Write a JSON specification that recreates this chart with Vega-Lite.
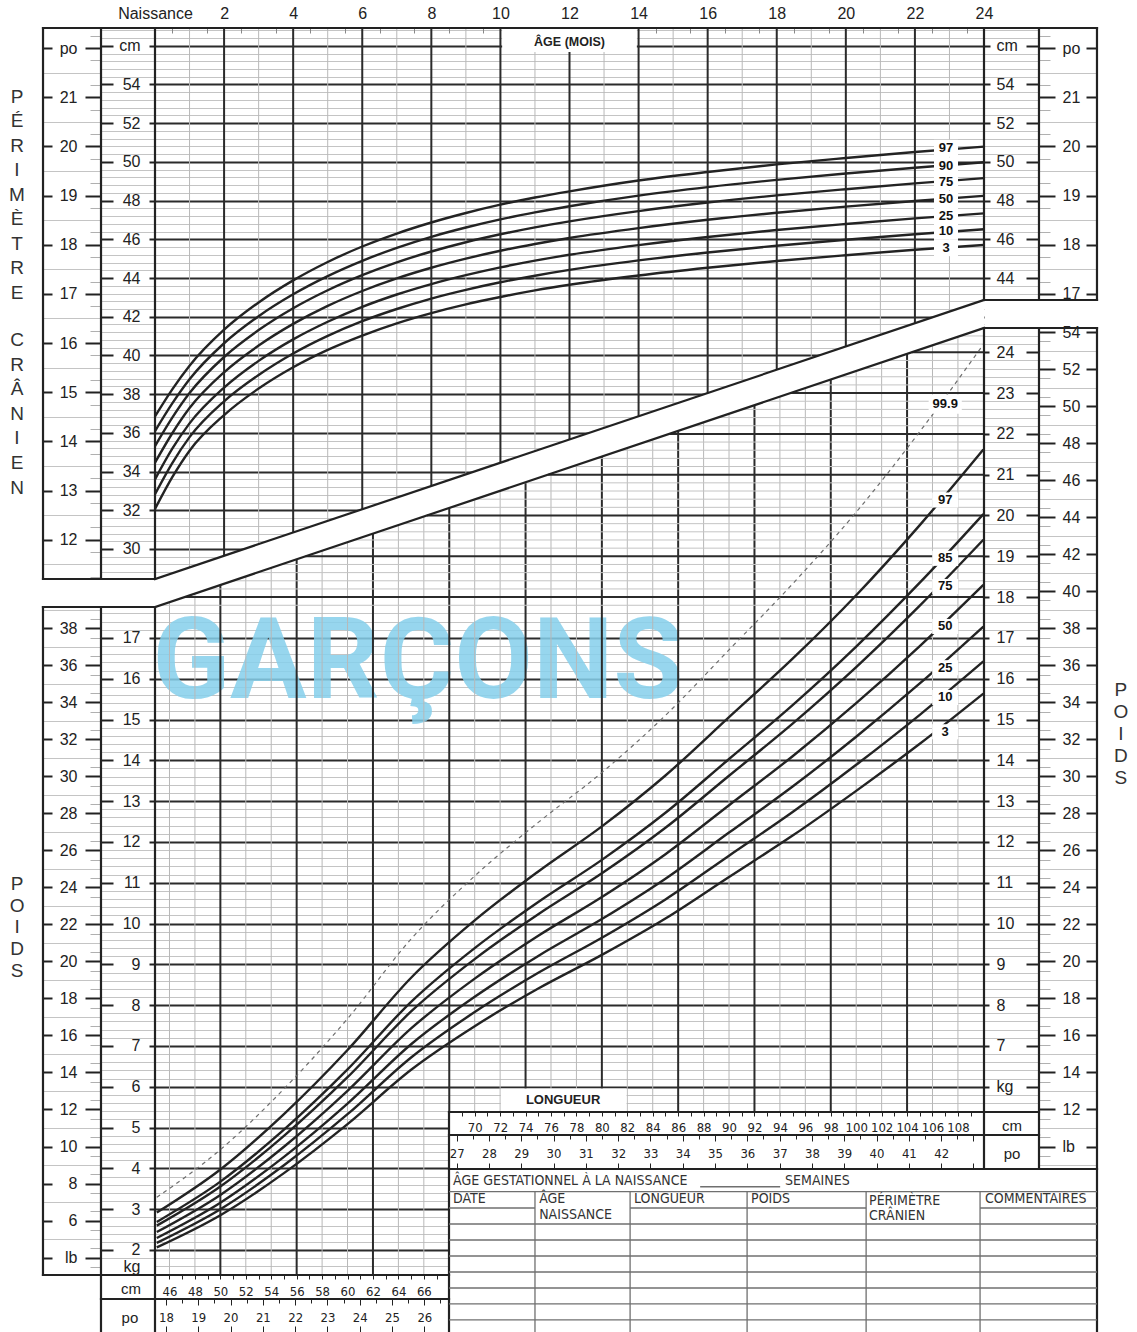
{
"$schema": "https://vega.github.io/schema/vega-lite/v6.json",
"width": 829, "height": 1247,
"autosize": {"type": "none"},
"padding": {"left": 155, "top": 28, "right": 153, "bottom": 57},
"background": "white",
"config": {"view": {"stroke": null}, "axis": {"grid": false, "domain": false, "labelFont": "Liberation Sans", "labelFontSize": 16, "labelColor": "#222", "tickColor": "#222", "tickWidth": 2, "labelOverlap": false, "labelFlush": false, "labelBound": false}},
"data": {"values": [{"k": 0}]},
"resolve": {"scale": {"x": "independent", "y": "independent"}},
"datasets": {
"head": [
{"age":0,"p3":32.07,"p10":32.83,"p25":33.6,"p50":34.46,"p75":35.32,"p90":36.09,"p97":36.85},
{"age":0.5,"p3":33.71,"p10":34.44,"p25":35.18,"p50":35.98,"p75":36.79,"p90":37.52,"p97":38.25},
{"age":1,"p3":35.08,"p10":35.78,"p25":36.49,"p50":37.28,"p75":38.06,"p90":38.77,"p97":39.47},
{"age":2,"p3":36.92,"p10":37.63,"p25":38.34,"p50":39.13,"p75":39.92,"p90":40.63,"p97":41.33},
{"age":3,"p3":38.29,"p10":38.99,"p25":39.72,"p50":40.51,"p75":41.31,"p90":42.03,"p97":42.74},
{"age":4,"p3":39.39,"p10":40.1,"p25":40.83,"p50":41.63,"p75":42.44,"p90":43.16,"p97":43.88},
{"age":5,"p3":40.29,"p10":41.01,"p25":41.74,"p50":42.56,"p75":43.37,"p90":44.1,"p97":44.83},
{"age":6,"p3":41.03,"p10":41.77,"p25":42.51,"p50":43.33,"p75":44.15,"p90":44.89,"p97":45.63},
{"age":7,"p3":41.66,"p10":42.4,"p25":43.15,"p50":43.98,"p75":44.81,"p90":45.56,"p97":46.3},
{"age":8,"p3":42.19,"p10":42.94,"p25":43.69,"p50":44.53,"p75":45.37,"p90":46.13,"p97":46.87},
{"age":9,"p3":42.64,"p10":43.39,"p25":44.15,"p50":45,"p75":45.85,"p90":46.61,"p97":47.36},
{"age":10,"p3":43.02,"p10":43.78,"p25":44.55,"p50":45.41,"p75":46.26,"p90":47.03,"p97":47.79},
{"age":11,"p3":43.36,"p10":44.12,"p25":44.9,"p50":45.76,"p75":46.62,"p90":47.39,"p97":48.16},
{"age":12,"p3":43.65,"p10":44.42,"p25":45.2,"p50":46.07,"p75":46.93,"p90":47.71,"p97":48.48},
{"age":14,"p3":44.13,"p10":44.91,"p25":45.7,"p50":46.58,"p75":47.46,"p90":48.26,"p97":49.04},
{"age":16,"p3":44.53,"p10":45.32,"p25":46.12,"p50":47.01,"p75":47.9,"p90":48.7,"p97":49.48},
{"age":18,"p3":44.88,"p10":45.67,"p25":46.48,"p50":47.37,"p75":48.27,"p90":49.07,"p97":49.87},
{"age":20,"p3":45.18,"p10":45.98,"p25":46.79,"p50":47.69,"p75":48.59,"p90":49.4,"p97":50.2},
{"age":22,"p3":45.46,"p10":46.26,"p25":47.08,"p50":47.98,"p75":48.89,"p90":49.7,"p97":50.51},
{"age":24,"p3":45.71,"p10":46.52,"p25":47.34,"p50":48.25,"p75":49.16,"p90":49.98,"p97":50.79}
],
"wfl": [
{"len":45,"p3":2.063,"p10":2.174,"p25":2.295,"p50":2.44,"p75":2.598,"p85":2.688,"p97":2.916,"p999":3.29},
{"len":50,"p3":2.852,"p10":2.999,"p25":3.159,"p50":3.35,"p75":3.557,"p85":3.675,"p97":3.973,"p999":4.459},
{"len":55,"p3":3.884,"p10":4.076,"p25":4.283,"p50":4.53,"p75":4.797,"p85":4.949,"p97":5.33,"p999":5.947},
{"len":60,"p3":5.086,"p10":5.328,"p25":5.589,"p50":5.9,"p75":6.235,"p85":6.425,"p97":6.9,"p999":7.668},
{"len":65,"p3":6.417,"p10":6.718,"p25":7.043,"p50":7.43,"p75":7.846,"p85":8.082,"p97":8.672,"p999":9.623},
{"len":70,"p3":7.484,"p10":7.831,"p25":8.205,"p50":8.65,"p75":9.128,"p85":9.399,"p97":10.076,"p999":11.166},
{"len":75,"p3":8.407,"p10":8.792,"p25":9.207,"p50":9.7,"p75":10.229,"p85":10.529,"p97":11.277,"p999":12.479},
{"len":80,"p3":9.231,"p10":9.653,"p25":10.109,"p50":10.65,"p75":11.231,"p85":11.56,"p97":12.381,"p999":13.701},
{"len":85,"p3":10.123,"p10":10.592,"p25":11.098,"p50":11.7,"p75":12.347,"p85":12.714,"p97":13.629,"p999":15.102},
{"len":90,"p3":11.141,"p10":11.664,"p25":12.229,"p50":12.9,"p75":13.622,"p85":14.032,"p97":15.057,"p999":16.708},
{"len":95,"p3":12.155,"p10":12.733,"p25":13.357,"p50":14.1,"p75":14.9,"p85":15.354,"p97":16.49,"p999":18.324},
{"len":100,"p3":13.252,"p10":13.89,"p25":14.579,"p50":15.4,"p75":16.285,"p85":16.788,"p97":18.046,"p999":20.082},
{"len":105,"p3":14.406,"p10":15.115,"p25":15.884,"p50":16.8,"p75":17.79,"p85":18.353,"p97":19.765,"p999":22.056},
{"len":110,"p3":15.636,"p10":16.424,"p25":17.279,"p50":18.3,"p75":19.405,"p85":20.034,"p97":21.616,"p999":24.19}
],
"topV": [{"age":1,"to":29.05},{"age":2,"to":29.65},{"age":3,"to":30.25},{"age":4,"to":30.85},{"age":5,"to":31.45},{"age":6,"to":32.05},{"age":7,"to":32.65},{"age":8,"to":33.25},{"age":9,"to":33.86},{"age":10,"to":34.46},{"age":11,"to":35.06},{"age":12,"to":35.66},{"age":13,"to":36.26},{"age":14,"to":36.86},{"age":15,"to":37.46},{"age":16,"to":38.06},{"age":17,"to":38.66},{"age":18,"to":39.26},{"age":19,"to":39.86},{"age":20,"to":40.46},{"age":21,"to":41.06},{"age":22,"to":41.66},{"age":23,"to":42.26}],
"botV": [{"len":46,"from":17.878},{"len":48,"from":18.087},{"len":50,"from":18.297},{"len":52,"from":18.507},{"len":54,"from":18.717},{"len":56,"from":18.926},{"len":58,"from":19.136},{"len":60,"from":19.346},{"len":62,"from":19.556},{"len":64,"from":19.765},{"len":66,"from":19.975},{"len":68,"from":20.185},{"len":70,"from":20.395},{"len":72,"from":20.604},{"len":74,"from":20.814},{"len":76,"from":21.024},{"len":78,"from":21.234},{"len":80,"from":21.443},{"len":82,"from":21.653},{"len":84,"from":21.863},{"len":86,"from":22.073},{"len":88,"from":22.282},{"len":90,"from":22.492},{"len":92,"from":22.702},{"len":94,"from":22.912},{"len":96,"from":23.121},{"len":98,"from":23.331},{"len":100,"from":23.541},{"len":102,"from":23.751},{"len":104,"from":23.96},{"len":106,"from":24.17},{"len":108,"from":24.38}],
"botH": [{"kg":17.8,"from":45.26},{"kg":18,"from":47.17},{"kg":18.2,"from":49.07},{"kg":18.4,"from":50.98},{"kg":18.6,"from":52.89},{"kg":18.8,"from":54.8},{"kg":19,"from":56.7},{"kg":19.2,"from":58.61},{"kg":19.4,"from":60.52},{"kg":19.6,"from":62.42},{"kg":19.8,"from":64.33},{"kg":20,"from":66.24},{"kg":20.2,"from":68.15},{"kg":20.4,"from":70.05},{"kg":20.6,"from":71.96},{"kg":20.8,"from":73.87},{"kg":21,"from":75.77},{"kg":21.2,"from":77.68},{"kg":21.4,"from":79.59},{"kg":21.6,"from":81.49},{"kg":21.8,"from":83.4},{"kg":22,"from":85.31},{"kg":22.2,"from":87.22},{"kg":22.4,"from":89.12},{"kg":22.6,"from":91.03},{"kg":22.8,"from":92.94},{"kg":23,"from":94.84},{"kg":23.2,"from":96.75},{"kg":23.4,"from":98.66},{"kg":23.6,"from":100.56},{"kg":23.8,"from":102.47},{"kg":24,"from":104.38},{"kg":24.2,"from":106.29},{"kg":24.4,"from":108.19}],
"topLab": [{"age":22.9,"cm":50.7,"p":"97"},{"age":22.9,"cm":49.8,"p":"90"},{"age":22.9,"cm":48.98,"p":"75"},{"age":22.9,"cm":48.07,"p":"50"},{"age":22.9,"cm":47.22,"p":"25"},{"age":22.9,"cm":46.43,"p":"10"},{"age":22.9,"cm":45.57,"p":"3"}],
"botLab": [{"len":107,"kg":22.73,"p":"99.9"},{"len":107,"kg":20.38,"p":"97"},{"len":107,"kg":18.95,"p":"85"},{"len":107,"kg":18.26,"p":"75"},{"len":107,"kg":17.28,"p":"50"},{"len":107,"kg":16.27,"p":"25"},{"len":107,"kg":15.54,"p":"10"},{"len":107,"kg":14.7,"p":"3"}],
"frameT": [
{"x1":-3.242,"y1":56.919,"x2":27.271,"y2":56.919},
{"x1":-3.242,"y1":28.45,"x2":-3.242,"y2":56.919},
{"x1":-1.563,"y1":28.45,"x2":-1.563,"y2":56.919},
{"x1":0,"y1":28.45,"x2":0,"y2":56.919},
{"x1":-3.242,"y1":28.45,"x2":0,"y2":28.45},
{"x1":0,"y1":28.45,"x2":24,"y2":42.865},
{"x1":24,"y1":42.865,"x2":24,"y2":56.919},
{"x1":25.592,"y1":42.865,"x2":25.592,"y2":56.919},
{"x1":27.271,"y1":42.865,"x2":27.271,"y2":56.919},
{"x1":24,"y1":42.865,"x2":27.271,"y2":42.865}
],
"frameB": [
{"x1":36.052,"y1":17.758,"x2":44.86,"y2":17.758},
{"x1":44.86,"y1":17.758,"x2":110.05,"y2":24.595},
{"x1":110.05,"y1":24.595,"x2":118.936,"y2":24.595},
{"x1":36.052,"y1":1.387,"x2":36.052,"y2":17.758},
{"x1":40.613,"y1":-0.05,"x2":40.613,"y2":17.758},
{"x1":44.86,"y1":-0.05,"x2":44.86,"y2":17.758},
{"x1":36.052,"y1":1.387,"x2":67.98,"y2":1.387},
{"x1":40.613,"y1":0.799,"x2":67.98,"y2":0.799},
{"x1":67.98,"y1":-0.05,"x2":67.98,"y2":5.382},
{"x1":110.05,"y1":3.985,"x2":110.05,"y2":24.595},
{"x1":114.375,"y1":3.985,"x2":114.375,"y2":24.595},
{"x1":118.936,"y1":-0.05,"x2":118.936,"y2":24.595},
{"x1":67.98,"y1":5.382,"x2":114.375,"y2":5.382},
{"x1":67.98,"y1":4.818,"x2":114.375,"y2":4.818},
{"x1":67.98,"y1":3.985,"x2":118.936,"y2":3.985}
],
"tableLines": [
{"x1":67.98,"y1":3.429,"x2":118.936,"y2":3.429},
{"x1":67.98,"y1":3.029,"x2":74.74,"y2":3.029},
{"x1":82.22,"y1":3.029,"x2":100.78,"y2":3.029},
{"x1":109.74,"y1":3.029,"x2":118.936,"y2":3.029},
{"x1":67.98,"y1":2.637,"x2":118.936,"y2":2.637},
{"x1":67.98,"y1":2.245,"x2":118.936,"y2":2.245},
{"x1":67.98,"y1":1.853,"x2":118.936,"y2":1.853},
{"x1":67.98,"y1":1.461,"x2":118.936,"y2":1.461},
{"x1":67.98,"y1":1.069,"x2":118.936,"y2":1.069},
{"x1":67.98,"y1":0.677,"x2":118.936,"y2":0.677},
{"x1":67.98,"y1":0.285,"x2":118.936,"y2":0.285},
{"x1":74.74,"y1":-0.05,"x2":74.74,"y2":3.429},
{"x1":82.22,"y1":-0.05,"x2":82.22,"y2":3.429},
{"x1":91.42,"y1":-0.05,"x2":91.42,"y2":3.429},
{"x1":100.78,"y1":-0.05,"x2":100.78,"y2":3.429},
{"x1":109.74,"y1":-0.05,"x2":109.74,"y2":3.429},
{"x1":87.73,"y1":3.55,"x2":94.02,"y2":3.55}
],
"tableText": [
{"l":68.3,"k":3.691,"t":"ÂGE GESTATIONNEL À LA NAISSANCE"},
{"l":94.41,"k":3.691,"t":"SEMAINES"},
{"l":68.3,"k":3.25,"t":"DATE"},
{"l":75.07,"k":3.25,"t":"ÂGE"},
{"l":75.07,"k":2.858,"t":"NAISSANCE"},
{"l":82.53,"k":3.25,"t":"LONGUEUR"},
{"l":91.73,"k":3.25,"t":"POIDS"},
{"l":101.01,"k":3.201,"t":"PÉRIMÈTRE"},
{"l":101.01,"k":2.833,"t":"CRÂNIEN"},
{"l":110.13,"k":3.25,"t":"COMMENTAIRES"}
],
"cellText": [{"l":112.25,"k":5.039,"t":"cm"},{"l":112.25,"k":4.353,"t":"po"},{"l":42.97,"k":1.044,"t":"cm"},{"l":42.89,"k":0.333,"t":"po"}],
"whites": [{"l1":67.98,"l2":114.375,"k1":-0.05,"k2":5.382},{"l1":114.375,"l2":118.936,"k1":-0.05,"k2":3.985},{"l1":72.06,"l2":81.94,"k1":5.382,"k2":5.955}]
},
"layer": [
{"mark": {"type": "point", "opacity": 0}, "encoding": {"y": {"datum": 40, "type": "quantitative", "scale": {"domain": [-7.512, 56.919], "nice": false, "zero": false}, "axis": {"orient": "left", "offset": 0, "title": null, "labels": false, "values": [28.8,29.2,29.6,30,30.4,30.8,31.2,31.6,32,32.4,32.8,33.2,33.6,34,34.4,34.8,35.2,35.6,36,36.4,36.8,37.2,37.6,38,38.4,38.8,39.2,39.6,40,40.4,40.8,41.2,41.6,42,42.4,42.8,43.2,43.6,44,44.4,44.8,45.2,45.6,46,46.4,46.8,47.2,47.6,48,48.4,48.8,49.2,49.6,50,50.4,50.8,51.2,51.6,52,52.4,52.8,53.2,53.6,54,54.4,54.8,55.2,55.6,56,56.4,56.8], "grid": true, "gridColor": {"condition": {"test": "datum.value % 2 === 0", "value": "#2b2b2b"}, "value": "#c4c4c4"}, "gridWidth": {"condition": {"test": "datum.value % 2 === 0", "value": 2}, "value": 1}, "tickSize": 54, "tickWidth": 1, "tickColor": "#c4c4c4", "tickOpacity": {"condition": {"test": "datum.value % 2 === 0", "value": 0}, "value": 1}}}}},
{"mark": {"type": "point", "opacity": 0}, "encoding": {"y": {"datum": 40, "type": "quantitative", "scale": {"domain": [-7.512, 56.919], "nice": false, "zero": false}, "axis": {"orient": "left", "offset": 0, "title": null, "values": [30,32,34,36,38,40,42,44,46,48,50,52,54,56], "format": "d", "tickSize": 6, "labelPadding": 9, "labelExpr": "datum.value === 56 ? 'cm' : datum.label"}}}},
{"mark": {"type": "point", "opacity": 0}, "encoding": {"y": {"datum": 40, "type": "quantitative", "scale": {"domain": [-7.512, 56.919], "nice": false, "zero": false}, "axis": {"orient": "left", "offset": 54, "title": null, "labels": false, "values": [30,32,34,36,38,40,42,44,46,48,50,52,54,56], "tickSize": -12}}}},
{"mark": {"type": "point", "opacity": 0}, "encoding": {"y": {"datum": 40, "type": "quantitative", "scale": {"domain": [-7.512, 56.919], "nice": false, "zero": false}, "axis": {"orient": "right", "offset": 0, "title": null, "values": [44,46,48,50,52,54,56], "format": "d", "tickSize": 6, "labelPadding": 6, "labelExpr": "datum.value === 56 ? 'cm' : datum.label"}}}},
{"mark": {"type": "point", "opacity": 0}, "encoding": {"y": {"datum": 40, "type": "quantitative", "scale": {"domain": [-7.512, 56.919], "nice": false, "zero": false}, "axis": {"orient": "right", "offset": 55, "title": null, "labels": false, "values": [44,46,48,50,52,54,56], "tickSize": -13}}}},
{"mark": {"type": "point", "opacity": 0}, "encoding": {"y": {"datum": 40, "type": "quantitative", "scale": {"domain": [-7.512, 56.919], "nice": false, "zero": false}, "axis": {"orient": "right", "offset": 0, "title": null, "labels": false, "values": [43.2,43.6,44,44.4,44.8,45.2,45.6,46,46.4,46.8,47.2,47.6,48,48.4,48.8,49.2,49.6,50,50.4,50.8,51.2,51.6,52,52.4,52.8,53.2,53.6,54,54.4,54.8,55.2,55.6,56,56.4,56.8], "tickSize": 55, "tickWidth": 1, "tickColor": "#c4c4c4", "tickOpacity": {"condition": {"test": "datum.value % 2 === 0", "value": 0}, "value": 1}}}}},
{"mark": {"type": "point", "opacity": 0}, "encoding": {"y": {"datum": 15, "type": "quantitative", "scale": {"domain": [-2.9575, 22.4091], "nice": false, "zero": false}, "axis": {"orient": "left", "offset": 54, "title": null, "values": [12,13,14,15,16,17,18,19,20,21,22], "format": "d", "tickSize": 16, "labelPadding": 8, "labelExpr": "datum.value === 22 ? 'po' : datum.label"}}}},
{"mark": {"type": "point", "opacity": 0}, "encoding": {"y": {"datum": 15, "type": "quantitative", "scale": {"domain": [-2.9575, 22.4091], "nice": false, "zero": false}, "axis": {"orient": "left", "offset": 112, "title": null, "labels": false, "values": [12,13,14,15,16,17,18,19,20,21,22], "tickSize": -9}}}},
{"mark": {"type": "point", "opacity": 0}, "encoding": {"y": {"datum": 15, "type": "quantitative", "scale": {"domain": [-2.9575, 22.4091], "nice": false, "zero": false}, "axis": {"orient": "left", "offset": 54, "title": null, "labels": false, "values": [11.5,12.5,13.5,14.5,15.5,16.5,17.5,18.5,19.5,20.5,21.5], "tickSize": 58, "tickWidth": 1, "tickColor": "#c4c4c4"}}}},
{"mark": {"type": "point", "opacity": 0}, "encoding": {"y": {"datum": 15, "type": "quantitative", "scale": {"domain": [-2.9575, 22.4091], "nice": false, "zero": false}, "axis": {"orient": "left", "offset": 54, "title": null, "labels": false, "values": [11.25,11.75,12.25,12.75,13.25,13.75,14.25,14.75,15.25,15.75,16.25,16.75,17.25,17.75,18.25,18.75,19.25,19.75,20.25,20.75,21.25,21.75,22.25], "tickSize": 11, "tickWidth": 1, "tickColor": "#b0b0b0"}}}},
{"mark": {"type": "point", "opacity": 0}, "encoding": {"y": {"datum": 15, "type": "quantitative", "scale": {"domain": [-2.9575, 22.4091], "nice": false, "zero": false}, "axis": {"orient": "right", "offset": 55, "title": null, "values": [17,18,19,20,21,22], "format": "d", "tickSize": 16, "labelPadding": 7, "labelExpr": "datum.value === 22 ? 'po' : datum.label"}}}},
{"mark": {"type": "point", "opacity": 0}, "encoding": {"y": {"datum": 15, "type": "quantitative", "scale": {"domain": [-2.9575, 22.4091], "nice": false, "zero": false}, "axis": {"orient": "right", "offset": 113, "title": null, "labels": false, "values": [17,18,19,20,21,22], "tickSize": -11}}}},
{"mark": {"type": "point", "opacity": 0}, "encoding": {"y": {"datum": 15, "type": "quantitative", "scale": {"domain": [-2.9575, 22.4091], "nice": false, "zero": false}, "axis": {"orient": "right", "offset": 55, "title": null, "labels": false, "values": [17.5,18.5,19.5,20.5,21.5], "tickSize": 58, "tickWidth": 1, "tickColor": "#c4c4c4"}}}},
{"mark": {"type": "point", "opacity": 0}, "encoding": {"y": {"datum": 15, "type": "quantitative", "scale": {"domain": [-2.9575, 22.4091], "nice": false, "zero": false}, "axis": {"orient": "right", "offset": 55, "title": null, "labels": false, "values": [17.25,17.75,18.25,18.75,19.25,19.75,20.25,20.75,21.25,21.75,22.25], "tickSize": 11, "tickWidth": 1, "tickColor": "#b0b0b0"}}}},
{"mark": {"type": "point", "opacity": 0}, "encoding": {"x": {"datum": 12, "type": "quantitative", "scale": {"domain": [0, 24], "nice": false, "zero": false}, "axis": {"orient": "top", "offset": 0, "title": null, "values": [0,2,4,6,8,10,12,14,16,18,20,22,24], "format": "d", "ticks": false, "labelPadding": 7, "labelExpr": "datum.value === 0 ? 'Naissance' : datum.label"}}}},
{"mark": {"type": "point", "opacity": 0}, "encoding": {"x": {"datum": 12, "type": "quantitative", "scale": {"domain": [0, 24], "nice": false, "zero": false}, "axis": {"orient": "top", "offset": 0, "title": null, "labels": false, "values": [0.5,1.5,2.5,3.5,4.5,5.5,6.5,7.5,8.5,9.5,10.5,11.5,12.5,13.5,14.5,15.5,16.5,17.5,18.5,19.5,20.5,21.5,22.5,23.5], "tickSize": -5, "tickWidth": 1, "tickColor": "#888"}}}},
{"mark": {"type": "point", "opacity": 0}, "encoding": {"y": {"datum": 10, "type": "quantitative", "scale": {"domain": [1.387, 31.947], "nice": false, "zero": false}, "axis": {"orient": "left", "offset": 0, "title": null, "labels": false, "values": [1.4,1.6,1.8,2,2.2,2.4,2.6,2.8,3,3.2,3.4,3.6,3.8,4,4.2,4.4,4.6,4.8,5,5.2,5.4,5.6,5.8,6,6.2,6.4,6.6,6.8,7,7.2,7.4,7.6,7.8,8,8.2,8.4,8.6,8.8,9,9.2,9.4,9.6,9.8,10,10.2,10.4,10.6,10.8,11,11.2,11.4,11.6,11.8,12,12.2,12.4,12.6,12.8,13,13.2,13.4,13.6,13.8,14,14.2,14.4,14.6,14.8,15,15.2,15.4,15.6,15.8,16,16.2,16.4,16.6,16.8,17,17.2,17.4,17.6], "grid": true, "gridColor": {"condition": {"test": "datum.value % 1 === 0", "value": "#2b2b2b"}, "value": "#c4c4c4"}, "gridWidth": {"condition": {"test": "datum.value % 1 === 0", "value": 2}, "value": 1}, "tickSize": 54, "tickWidth": 1, "tickColor": "#c4c4c4", "tickOpacity": {"condition": {"test": "datum.value % 1 === 0 || datum.value === 1.6", "value": 0}, "value": 1}}}}},
{"mark": {"type": "point", "opacity": 0}, "encoding": {"y": {"datum": 10, "type": "quantitative", "scale": {"domain": [1.387, 31.947], "nice": false, "zero": false}, "axis": {"orient": "left", "offset": 0, "title": null, "values": [1.6,2,3,4,5,6,7,8,9,10,11,12,13,14,15,16,17], "tickSize": 6, "labelPadding": 9, "tickOpacity": {"condition": {"test": "datum.value < 1.9", "value": 0}, "value": 1}, "labelExpr": "datum.value < 1.9 ? 'kg' : format(datum.value, 'd')"}}}},
{"mark": {"type": "point", "opacity": 0}, "encoding": {"y": {"datum": 10, "type": "quantitative", "scale": {"domain": [1.387, 31.947], "nice": false, "zero": false}, "axis": {"orient": "left", "offset": 54, "title": null, "labels": false, "values": [2,3,4,5,6,7,8,9,10,11,12,13,14,15,16,17], "tickSize": -12}}}},
{"mark": {"type": "point", "opacity": 0}, "encoding": {"y": {"datum": 10, "type": "quantitative", "scale": {"domain": [1.387, 31.947], "nice": false, "zero": false}, "axis": {"orient": "right", "offset": 0, "title": null, "values": [6,7,8,9,10,11,12,13,14,15,16,17,18,19,20,21,22,23,24], "format": "d", "tickSize": 5, "labelPadding": 7, "labelExpr": "datum.value === 6 ? 'kg' : datum.label"}}}},
{"mark": {"type": "point", "opacity": 0}, "encoding": {"y": {"datum": 10, "type": "quantitative", "scale": {"domain": [1.387, 31.947], "nice": false, "zero": false}, "axis": {"orient": "right", "offset": 55, "title": null, "labels": false, "values": [6,7,8,9,10,11,12,13,14,15,16,17,18,19,20,21,22,23,24], "tickSize": -13}}}},
{"mark": {"type": "point", "opacity": 0}, "encoding": {"y": {"datum": 10, "type": "quantitative", "scale": {"domain": [1.387, 31.947], "nice": false, "zero": false}, "axis": {"orient": "right", "offset": 0, "title": null, "labels": false, "values": [5.6,5.8,6,6.2,6.4,6.6,6.8,7,7.2,7.4,7.6,7.8,8,8.2,8.4,8.6,8.8,9,9.2,9.4,9.6,9.8,10,10.2,10.4,10.6,10.8,11,11.2,11.4,11.6,11.8,12,12.2,12.4,12.6,12.8,13,13.2,13.4,13.6,13.8,14,14.2,14.4,14.6,14.8,15,15.2,15.4,15.6,15.8,16,16.2,16.4,16.6,16.8,17,17.2,17.4,17.6,17.8,18,18.2,18.4,18.6,18.8,19,19.2,19.4,19.6,19.8,20,20.2,20.4,20.6,20.8,21,21.2,21.4,21.6,21.8,22,22.2,22.4,22.6,22.8,23,23.2,23.4,23.6,23.8,24,24.2,24.4], "tickSize": 55, "tickWidth": 1, "tickColor": "#c4c4c4", "tickOpacity": {"condition": {"test": "datum.value % 1 === 0", "value": 0}, "value": 1}}}}},
{"mark": {"type": "point", "opacity": 0}, "encoding": {"y": {"datum": 20, "type": "quantitative", "scale": {"domain": [3.0578, 70.4311], "nice": false, "zero": false}, "axis": {"orient": "left", "offset": 54, "title": null, "values": [4,6,8,10,12,14,16,18,20,22,24,26,28,30,32,34,36,38], "format": "d", "tickSize": 16, "labelPadding": 8, "labelExpr": "datum.value === 4 ? 'lb' : datum.label"}}}},
{"mark": {"type": "point", "opacity": 0}, "encoding": {"y": {"datum": 20, "type": "quantitative", "scale": {"domain": [3.0578, 70.4311], "nice": false, "zero": false}, "axis": {"orient": "left", "offset": 112, "title": null, "labels": false, "values": [4,6,8,10,12,14,16,18,20,22,24,26,28,30,32,34,36,38], "tickSize": -9}}}},
{"mark": {"type": "point", "opacity": 0}, "encoding": {"y": {"datum": 20, "type": "quantitative", "scale": {"domain": [3.0578, 70.4311], "nice": false, "zero": false}, "axis": {"orient": "left", "offset": 54, "title": null, "labels": false, "values": [5,7,9,11,13,15,17,19,21,23,25,27,29,31,33,35,37,39], "tickSize": 58, "tickWidth": 1, "tickColor": "#c4c4c4"}}}},
{"mark": {"type": "point", "opacity": 0}, "encoding": {"y": {"datum": 20, "type": "quantitative", "scale": {"domain": [3.0578, 70.4311], "nice": false, "zero": false}, "axis": {"orient": "left", "offset": 54, "title": null, "labels": false, "values": [3.5,4.5,5.5,6.5,7.5,8.5,9.5,10.5,11.5,12.5,13.5,14.5,15.5,16.5,17.5,18.5,19.5,20.5,21.5,22.5,23.5,24.5,25.5,26.5,27.5,28.5,29.5,30.5,31.5,32.5,33.5,34.5,35.5,36.5,37.5,38.5], "tickSize": 11, "tickWidth": 1, "tickColor": "#b0b0b0"}}}},
{"mark": {"type": "point", "opacity": 0}, "encoding": {"y": {"datum": 20, "type": "quantitative", "scale": {"domain": [3.0578, 70.4311], "nice": false, "zero": false}, "axis": {"orient": "right", "offset": 55, "title": null, "values": [10,12,14,16,18,20,22,24,26,28,30,32,34,36,38,40,42,44,46,48,50,52,54], "format": "d", "tickSize": 16, "labelPadding": 7, "labelExpr": "datum.value === 10 ? 'lb' : datum.label"}}}},
{"mark": {"type": "point", "opacity": 0}, "encoding": {"y": {"datum": 20, "type": "quantitative", "scale": {"domain": [3.0578, 70.4311], "nice": false, "zero": false}, "axis": {"orient": "right", "offset": 113, "title": null, "labels": false, "values": [10,12,14,16,18,20,22,24,26,28,30,32,34,36,38,40,42,44,46,48,50,52,54], "tickSize": -11}}}},
{"mark": {"type": "point", "opacity": 0}, "encoding": {"y": {"datum": 20, "type": "quantitative", "scale": {"domain": [3.0578, 70.4311], "nice": false, "zero": false}, "axis": {"orient": "right", "offset": 55, "title": null, "labels": false, "values": [9,11,13,15,17,19,21,23,25,27,29,31,33,35,37,39,41,43,45,47,49,51,53], "tickSize": 58, "tickWidth": 1, "tickColor": "#c4c4c4"}}}},
{"mark": {"type": "point", "opacity": 0}, "encoding": {"y": {"datum": 20, "type": "quantitative", "scale": {"domain": [3.0578, 70.4311], "nice": false, "zero": false}, "axis": {"orient": "right", "offset": 55, "title": null, "labels": false, "values": [9.5,10.5,11.5,12.5,13.5,14.5,15.5,16.5,17.5,18.5,19.5,20.5,21.5,22.5,23.5,24.5,25.5,26.5,27.5,28.5,29.5,30.5,31.5,32.5,33.5,34.5,35.5,36.5,37.5,38.5,39.5,40.5,41.5,42.5,43.5,44.5,45.5,46.5,47.5,48.5,49.5,50.5,51.5,52.5,53.5], "tickSize": 11, "tickWidth": 1, "tickColor": "#b0b0b0"}}}},
{"mark": {"type": "point", "opacity": 0}, "encoding": {"x": {"datum": 60, "type": "quantitative", "scale": {"domain": [44.86, 110.05], "nice": false, "zero": false}, "axis": {"orient": "bottom", "offset": 0, "title": null, "values": [46,47,48,49,50,51,52,53,54,55,56,57,58,59,60,61,62,63,64,65,66,67], "format": "d", "tickSize": 4, "tickWidth": 1, "labelPadding": 6, "labelFont": "Liberation Sans Narrow, DejaVu Sans Condensed, sans-serif", "labelFontSize": 13, "labelExpr": "datum.value % 2 === 0 ? datum.label : ''"}}}},
{"mark": {"type": "point", "opacity": 0}, "encoding": {"x": {"datum": 25, "type": "quantitative", "scale": {"domain": [17.6614, 43.3268], "nice": false, "zero": false}, "axis": {"orient": "bottom", "offset": 24, "title": null, "values": [18,19,20,21,22,23,24,25,26], "format": "d", "tickSize": 6, "tickWidth": 1, "labelPadding": 6, "labelFont": "Liberation Sans Narrow, DejaVu Sans Condensed, sans-serif", "labelFontSize": 13}}}},
{"mark": {"type": "point", "opacity": 0}, "encoding": {"x": {"datum": 25, "type": "quantitative", "scale": {"domain": [17.6614, 43.3268], "nice": false, "zero": false}, "axis": {"orient": "bottom", "offset": 24, "title": null, "labels": false, "values": [18.5,19.5,20.5,21.5,22.5,23.5,24.5,25.5,26.5], "tickSize": 4, "tickWidth": 1}}}},
{"mark": {"type": "point", "opacity": 0}, "encoding": {"x": {"datum": 25, "type": "quantitative", "scale": {"domain": [17.6614, 43.3268], "nice": false, "zero": false}, "axis": {"orient": "bottom", "offset": 57, "title": null, "labels": false, "values": [18,19,20,21,22,23,24,25,26], "tickSize": -6, "tickWidth": 1}}}},
{"mark": {"type": "point", "opacity": 0}, "encoding": {"x": {"datum": 60, "type": "quantitative", "scale": {"domain": [44.86, 110.05], "nice": false, "zero": false}, "axis": {"orient": "bottom", "offset": -163, "zindex": 1, "title": null, "values": [69,70,71,72,73,74,75,76,77,78,79,80,81,82,83,84,85,86,87,88,89,90,91,92,93,94,95,96,97,98,99,100,101,102,103,104,105,106,107,108,109], "format": "d", "tickSize": 4, "tickWidth": 1, "labelPadding": 5, "labelFont": "Liberation Sans Narrow, DejaVu Sans Condensed, sans-serif", "labelFontSize": 13, "labelExpr": "datum.value % 2 === 0 ? datum.label : ''"}}}},
{"mark": {"type": "point", "opacity": 0}, "encoding": {"x": {"datum": 25, "type": "quantitative", "scale": {"domain": [17.6614, 43.3268], "nice": false, "zero": false}, "axis": {"orient": "bottom", "offset": -140, "zindex": 1, "title": null, "values": [27,28,29,30,31,32,33,34,35,36,37,38,39,40,41,42,43], "format": "d", "tickSize": 6, "tickWidth": 1, "labelPadding": 6, "labelFont": "Liberation Sans Narrow, DejaVu Sans Condensed, sans-serif", "labelFontSize": 13, "labelExpr": "datum.value === 43 ? '' : datum.label"}}}},
{"mark": {"type": "point", "opacity": 0}, "encoding": {"x": {"datum": 25, "type": "quantitative", "scale": {"domain": [17.6614, 43.3268], "nice": false, "zero": false}, "axis": {"orient": "bottom", "offset": -140, "zindex": 1, "title": null, "labels": false, "values": [27.5,28.5,29.5,30.5,31.5,32.5,33.5,34.5,35.5,36.5,37.5,38.5,39.5,40.5,41.5,42.5], "tickSize": 4, "tickWidth": 1}}}},
{"mark": {"type": "point", "opacity": 0}, "encoding": {"x": {"datum": 25, "type": "quantitative", "scale": {"domain": [17.6614, 43.3268], "nice": false, "zero": false}, "axis": {"orient": "bottom", "offset": -106, "zindex": 1, "title": null, "labels": false, "values": [27,28,29,30,31,32,33,34,35,36,37,38,39,40,41,42,43], "tickSize": -6, "tickWidth": 1}}}},

{"data": {"values": [{"a": 0, "t": 28.45, "b": 28.3}, {"a": 24, "t": 42.865, "b": 28.3}]}, "mark": {"type": "area", "color": "white", "opacity": 1}, "encoding": {"x": {"field": "a", "type": "quantitative", "scale": {"domain": [0, 24], "nice": false, "zero": false}, "axis": null}, "y": {"field": "t", "type": "quantitative", "scale": {"domain": [-7.512, 56.919], "nice": false, "zero": false}, "axis": null}, "y2": {"field": "b"}}},
{"mark": {"type": "text", "text": "GARÇONS", "font": "Roboto", "fontWeight": "bold", "fontSize": 114, "color": "#86d0ec", "opacity": 0.85, "align": "center", "baseline": "alphabetic"}, "encoding": {"x": {"datum": 65.54, "type": "quantitative", "scale": {"domain": [44.86, 110.05], "nice": false, "zero": false}, "axis": null}, "y": {"datum": 15.528, "type": "quantitative", "scale": {"domain": [1.387, 31.947], "nice": false, "zero": false}, "axis": null}}},
{"data": {"name": "topV"}, "mark": {"type": "rule"}, "encoding": {"x": {"field": "age", "type": "quantitative", "scale": {"domain": [0, 24], "nice": false, "zero": false}, "axis": null}, "y": {"field": "to", "type": "quantitative", "scale": {"domain": [-7.512, 56.919], "nice": false, "zero": false}, "axis": null}, "y2": {"datum": 56.919}, "color": {"condition": {"test": "datum.age % 2 === 0", "value": "#2b2b2b"}, "value": "#b8b8b8"}, "strokeWidth": {"condition": {"test": "datum.age % 2 === 0", "value": 2}, "value": 1}}},
{"data": {"name": "botV"}, "mark": {"type": "rule"}, "encoding": {"x": {"field": "len", "type": "quantitative", "scale": {"domain": [44.86, 110.05], "nice": false, "zero": false}, "axis": null}, "y": {"field": "from", "type": "quantitative", "scale": {"domain": [1.387, 31.947], "nice": false, "zero": false}, "axis": null}, "y2": {"datum": 1.387}, "color": {"condition": {"test": "(datum.len - 50) % 6 === 0", "value": "#2b2b2b"}, "value": "#b8b8b8"}, "strokeWidth": {"condition": {"test": "(datum.len - 50) % 6 === 0", "value": 2}, "value": 1}}},
{"data": {"name": "botH"}, "mark": {"type": "rule"}, "encoding": {"x": {"field": "from", "type": "quantitative", "scale": {"domain": [44.86, 110.05], "nice": false, "zero": false}, "axis": null}, "x2": {"datum": 110.05}, "y": {"field": "kg", "type": "quantitative", "scale": {"domain": [1.387, 31.947], "nice": false, "zero": false}, "axis": null}, "color": {"condition": {"test": "datum.kg % 1 === 0", "value": "#2b2b2b"}, "value": "#c4c4c4"}, "strokeWidth": {"condition": {"test": "datum.kg % 1 === 0", "value": 2}, "value": 1}}},
{"data": {"name": "head"}, "transform": [{"fold": ["p3","p10","p25","p50","p75","p90","p97"], "as": ["pct","cm"]}], "mark": {"type": "line", "interpolate": "monotone", "color": "#232323", "strokeWidth": 2.4}, "encoding": {"x": {"field": "age", "type": "quantitative", "scale": {"domain": [0, 24], "nice": false, "zero": false}, "axis": null}, "y": {"field": "cm", "type": "quantitative", "scale": {"domain": [-7.512, 56.919], "nice": false, "zero": false}, "axis": null}, "detail": {"field": "pct", "type": "nominal"}}},
{"data": {"name": "topLab"}, "mark": {"type": "point", "filled": true, "shape": "M-1,-0.71H1V0.71H-1Z", "size": 576, "color": "white", "opacity": 1, "strokeWidth": 0}, "encoding": {"x": {"field": "age", "type": "quantitative", "scale": {"domain": [0, 24], "nice": false, "zero": false}, "axis": null}, "y": {"field": "cm", "type": "quantitative", "scale": {"domain": [-7.512, 56.919], "nice": false, "zero": false}, "axis": null}}},
{"data": {"name": "topLab"}, "mark": {"type": "text", "font": "Liberation Sans", "fontWeight": "bold", "fontSize": 13, "color": "#111"}, "encoding": {"x": {"field": "age", "type": "quantitative", "scale": {"domain": [0, 24], "nice": false, "zero": false}, "axis": null}, "y": {"field": "cm", "type": "quantitative", "scale": {"domain": [-7.512, 56.919], "nice": false, "zero": false}, "axis": null}, "text": {"field": "p"}}},
{"mark": {"type": "rect", "color": "white"}, "encoding": {"x": {"datum": 10.05, "type": "quantitative", "scale": {"domain": [0, 24], "nice": false, "zero": false}, "axis": null}, "x2": {"datum": 13.95}, "y": {"datum": 55.679, "type": "quantitative", "scale": {"domain": [-7.512, 56.919], "nice": false, "zero": false}, "axis": null}, "y2": {"datum": 56.9}}},
{"mark": {"type": "text", "text": "ÂGE (MOIS)", "font": "Liberation Sans", "fontWeight": "bold", "fontSize": 12.5, "color": "#222"}, "encoding": {"x": {"datum": 12, "type": "quantitative", "scale": {"domain": [0, 24], "nice": false, "zero": false}, "axis": null}, "y": {"datum": 56.2, "type": "quantitative", "scale": {"domain": [-7.512, 56.919], "nice": false, "zero": false}, "axis": null}}},
{"data": {"name": "wfl"}, "mark": {"type": "line", "interpolate": "monotone", "color": "#6e6e6e", "strokeWidth": 1.2, "strokeDash": [4, 4]}, "encoding": {"x": {"field": "len", "type": "quantitative", "scale": {"domain": [44.86, 110.05], "nice": false, "zero": false}, "axis": null}, "y": {"field": "p999", "type": "quantitative", "scale": {"domain": [1.387, 31.947], "nice": false, "zero": false}, "axis": null}}},
{"data": {"name": "wfl"}, "transform": [{"fold": ["p3","p10","p25","p50","p75","p85","p97"], "as": ["pct","kg"]}], "mark": {"type": "line", "interpolate": "monotone", "color": "#232323", "strokeWidth": 2.4}, "encoding": {"x": {"field": "len", "type": "quantitative", "scale": {"domain": [44.86, 110.05], "nice": false, "zero": false}, "axis": null}, "y": {"field": "kg", "type": "quantitative", "scale": {"domain": [1.387, 31.947], "nice": false, "zero": false}, "axis": null}, "detail": {"field": "pct", "type": "nominal"}}},
{"data": {"name": "botLab"}, "mark": {"type": "point", "filled": true, "shape": "M-1,-0.58H1V0.58H-1Z", "color": "white", "opacity": 1, "strokeWidth": 0}, "encoding": {"x": {"field": "len", "type": "quantitative", "scale": {"domain": [44.86, 110.05], "nice": false, "zero": false}, "axis": null}, "y": {"field": "kg", "type": "quantitative", "scale": {"domain": [1.387, 31.947], "nice": false, "zero": false}, "axis": null}, "size": {"condition": {"test": "datum.p === '99.9'", "value": 1100}, "value": 676}}},
{"data": {"name": "botLab"}, "mark": {"type": "text", "font": "Liberation Sans", "fontWeight": "bold", "fontSize": 13, "color": "#111"}, "encoding": {"x": {"field": "len", "type": "quantitative", "scale": {"domain": [44.86, 110.05], "nice": false, "zero": false}, "axis": null}, "y": {"field": "kg", "type": "quantitative", "scale": {"domain": [1.387, 31.947], "nice": false, "zero": false}, "axis": null}, "text": {"field": "p"}}},
{"data": {"name": "whites"}, "mark": {"type": "rect", "color": "white"}, "encoding": {"x": {"field": "l1", "type": "quantitative", "scale": {"domain": [44.86, 110.05], "nice": false, "zero": false}, "axis": null}, "x2": {"field": "l2"}, "y": {"field": "k1", "type": "quantitative", "scale": {"domain": [1.387, 31.947], "nice": false, "zero": false}, "axis": null}, "y2": {"field": "k2"}}},
{"mark": {"type": "text", "text": "LONGUEUR", "font": "Liberation Sans", "fontWeight": "bold", "fontSize": 13, "color": "#222"}, "encoding": {"x": {"datum": 76.95, "type": "quantitative", "scale": {"domain": [44.86, 110.05], "nice": false, "zero": false}, "axis": null}, "y": {"datum": 5.676, "type": "quantitative", "scale": {"domain": [1.387, 31.947], "nice": false, "zero": false}, "axis": null}}},
{"data": {"name": "frameT"}, "mark": {"type": "rule", "color": "#222", "strokeWidth": 2.2, "strokeCap": "square"}, "encoding": {"x": {"field": "x1", "type": "quantitative", "scale": {"domain": [0, 24], "nice": false, "zero": false}, "axis": null}, "y": {"field": "y1", "type": "quantitative", "scale": {"domain": [-7.512, 56.919], "nice": false, "zero": false}, "axis": null}, "x2": {"field": "x2"}, "y2": {"field": "y2"}}},
{"data": {"name": "frameB"}, "mark": {"type": "rule", "color": "#222", "strokeWidth": 2.2, "strokeCap": "square"}, "encoding": {"x": {"field": "x1", "type": "quantitative", "scale": {"domain": [44.86, 110.05], "nice": false, "zero": false}, "axis": null}, "y": {"field": "y1", "type": "quantitative", "scale": {"domain": [1.387, 31.947], "nice": false, "zero": false}, "axis": null}, "x2": {"field": "x2"}, "y2": {"field": "y2"}}},
{"data": {"name": "tableLines"}, "mark": {"type": "rule", "color": "#6f6f6f", "strokeWidth": 1.3}, "encoding": {"x": {"field": "x1", "type": "quantitative", "scale": {"domain": [44.86, 110.05], "nice": false, "zero": false}, "axis": null}, "y": {"field": "y1", "type": "quantitative", "scale": {"domain": [1.387, 31.947], "nice": false, "zero": false}, "axis": null}, "x2": {"field": "x2"}, "y2": {"field": "y2"}}},
{"data": {"name": "tableText"}, "mark": {"type": "text", "font": "Liberation Sans Narrow, DejaVu Sans Condensed, sans-serif", "fontSize": 14, "color": "#333", "align": "left", "baseline": "middle"}, "encoding": {"x": {"field": "l", "type": "quantitative", "scale": {"domain": [44.86, 110.05], "nice": false, "zero": false}, "axis": null}, "y": {"field": "k", "type": "quantitative", "scale": {"domain": [1.387, 31.947], "nice": false, "zero": false}, "axis": null}, "text": {"field": "t"}}},
{"data": {"name": "cellText"}, "mark": {"type": "text", "font": "Liberation Sans", "fontSize": 15, "color": "#222", "align": "center", "baseline": "middle"}, "encoding": {"x": {"field": "l", "type": "quantitative", "scale": {"domain": [44.86, 110.05], "nice": false, "zero": false}, "axis": null}, "y": {"field": "k", "type": "quantitative", "scale": {"domain": [1.387, 31.947], "nice": false, "zero": false}, "axis": null}, "text": {"field": "t"}}},
{"mark": {"type": "text", "text": "P\nÉ\nR\nI\nM\nÈ\nT\nR\nE", "lineBreak": "\n", "lineHeight": 24.5, "font": "Liberation Sans", "fontSize": 19, "color": "#333", "align": "center", "baseline": "middle"}, "encoding": {"x": {"datum": -3.995, "type": "quantitative", "scale": {"domain": [0, 24], "nice": false, "zero": false}, "axis": null}, "y": {"datum": 53.354, "type": "quantitative", "scale": {"domain": [-7.512, 56.919], "nice": false, "zero": false}, "axis": null}}},
{"mark": {"type": "text", "text": "C\nR\nÂ\nN\nI\nE\nN", "lineBreak": "\n", "lineHeight": 24.6, "font": "Liberation Sans", "fontSize": 19, "color": "#333", "align": "center", "baseline": "middle"}, "encoding": {"x": {"datum": -3.995, "type": "quantitative", "scale": {"domain": [0, 24], "nice": false, "zero": false}, "axis": null}, "y": {"datum": 40.8, "type": "quantitative", "scale": {"domain": [-7.512, 56.919], "nice": false, "zero": false}, "axis": null}}},
{"mark": {"type": "text", "text": "P\nO\nI\nD\nS", "lineBreak": "\n", "lineHeight": 21.7, "font": "Liberation Sans", "fontSize": 19, "color": "#333", "align": "center", "baseline": "middle"}, "encoding": {"x": {"datum": 34.01, "type": "quantitative", "scale": {"domain": [44.86, 110.05], "nice": false, "zero": false}, "axis": null}, "y": {"datum": 10.97, "type": "quantitative", "scale": {"domain": [1.387, 31.947], "nice": false, "zero": false}, "axis": null}}},
{"mark": {"type": "text", "text": "P\nO\nI\nD\nS", "lineBreak": "\n", "lineHeight": 22, "font": "Liberation Sans", "fontSize": 19, "color": "#333", "align": "center", "baseline": "middle"}, "encoding": {"x": {"datum": 120.82, "type": "quantitative", "scale": {"domain": [44.86, 110.05], "nice": false, "zero": false}, "axis": null}, "y": {"datum": 15.724, "type": "quantitative", "scale": {"domain": [1.387, 31.947], "nice": false, "zero": false}, "axis": null}}}
]
}
